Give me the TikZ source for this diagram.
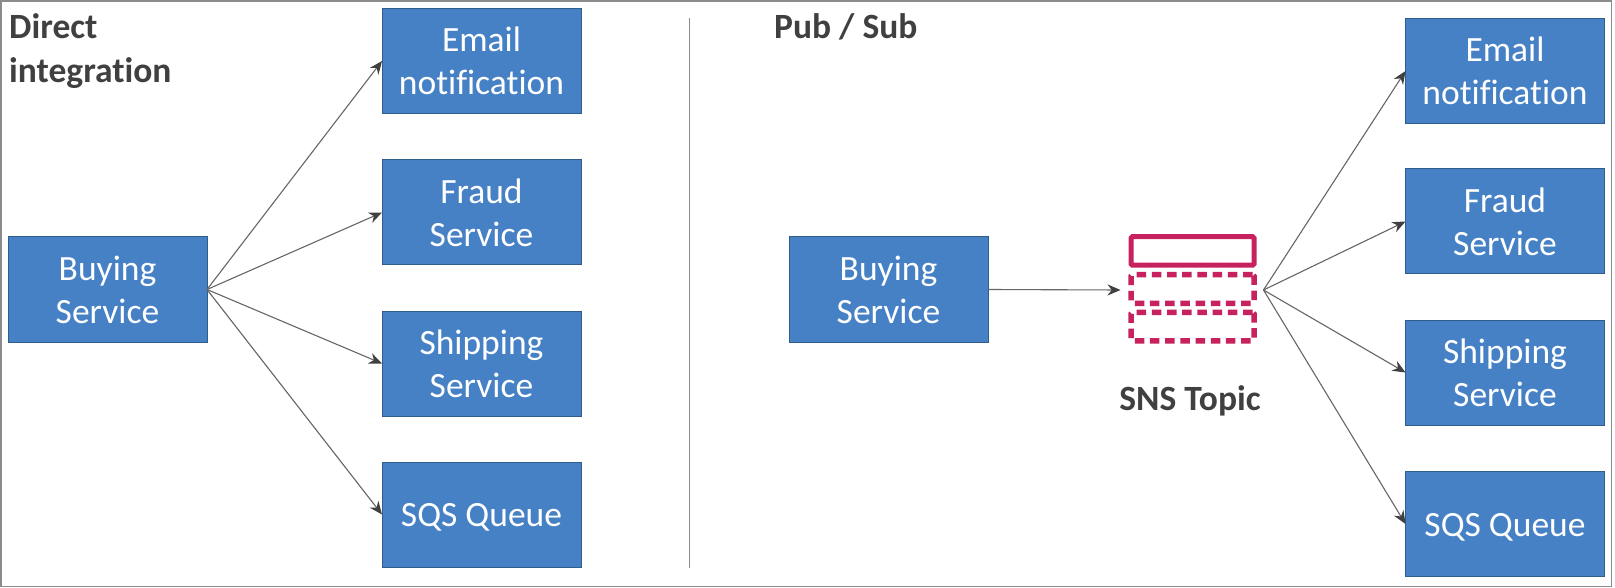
\documentclass[tikz,border=0pt]{standalone}
\usepackage{xcolor}
\usepackage{fontspec}
\setmainfont[Ligatures=NoCommon]{Carlito}
\usetikzlibrary{arrows}
\usetikzlibrary{arrows.meta}
\definecolor{boxblue}{HTML}{4681C6}
\definecolor{boxedge}{HTML}{2F5D8C}
\definecolor{snsred}{HTML}{C7225F}
\definecolor{titlegray}{HTML}{404040}

\begin{document}
\begin{tikzpicture}[x=1pt,y=-1pt]
\tikzset{service/.style={draw=boxedge,fill=boxblue,line width=1pt,text=white,align=center,
  minimum width=199pt,minimum height=105pt,inner sep=0pt,outer sep=0pt,
  font=\fontsize{35.5}{43}\selectfont}}
\tikzset{oneline/.style={service,text height=32pt,text depth=8pt}}
\tikzset{title/.style={text=titlegray,align=left,inner sep=0pt,
  font=\fontsize{35.5}{44}\selectfont\bfseries}}
\tikzset{link/.style={draw=black!60,line width=1.1pt,-{Stealth[length=13pt,width=11pt,color=black!75]}}}
\tikzset{solidpart/.style={draw=snsred,line width=5pt,rounded corners=1.5pt,inner sep=0pt,outer sep=0pt,
  minimum width=123pt,minimum height=28.5pt}}
\tikzset{dashpart/.style={solidpart,line width=5.5pt,dash pattern=on 9.5pt off 5.7pt}}

\draw[draw=black!45,line width=1.5pt,fill=white] (0.8,0.8) rectangle (1611.5,586.5);
\useasboundingbox (0,0) rectangle (1615,588);

\node[title,anchor=north west] (direct) at (9,13) {Direct\\integration};
\node[title,anchor=north west] (pubsub) at (774,13) {Pub / Sub};

\node[service] (buyingA) at (107.5,289.5) {Buying\\Service};
\node[service] (emailA) at (481.5,61) {Email\\notification};
\node[service] (fraudA) at (481.5,212.5) {Fraud\\Service};
\node[service] (shippingA) at (481.5,363.5) {Shipping\\Service};
\node[oneline] (sqsA) at (481.5,514.5) {SQS Queue};

\coordinate (splitA) at (689,18);
\coordinate (splitB) at (689,568);
\draw[draw=black!45,line width=0.9pt] (splitA) -- (splitB);

\node[service] (buyingB) at (888.5,289.5) {Buying\\Service};
\node[service] (emailB) at (1505,71) {Email\\notification};
\node[service] (fraudB) at (1505,221.5) {Fraud\\Service};
\node[service] (shippingB) at (1505,372.5) {Shipping\\Service};
\node[oneline] (sqsB) at (1505,524) {SQS Queue};

\node[solidpart] (topictop) at (1192.5,251) {};
\node[dashpart] (topicmid) at (1192.5,289) {};
\node[dashpart] (topicbot) at (1192.5,326.7) {};
\node[minimum width=143pt,minimum height=20pt,inner sep=0pt,outer sep=0pt] (topic) at (1192,290) {};
\node[title,anchor=base] (topiclabel) at (1190,410) {SNS Topic};

\foreach \target in {emailA,fraudA,shippingA,sqsA}
  \draw[link] (buyingA.east) -- (\target.west);
\draw[link] (buyingB.east) -- (topic.west);
\foreach \target in {emailB,fraudB,shippingB,sqsB}
  \draw[link] (topic.east) -- (\target.west);

\end{tikzpicture}
\end{document}
